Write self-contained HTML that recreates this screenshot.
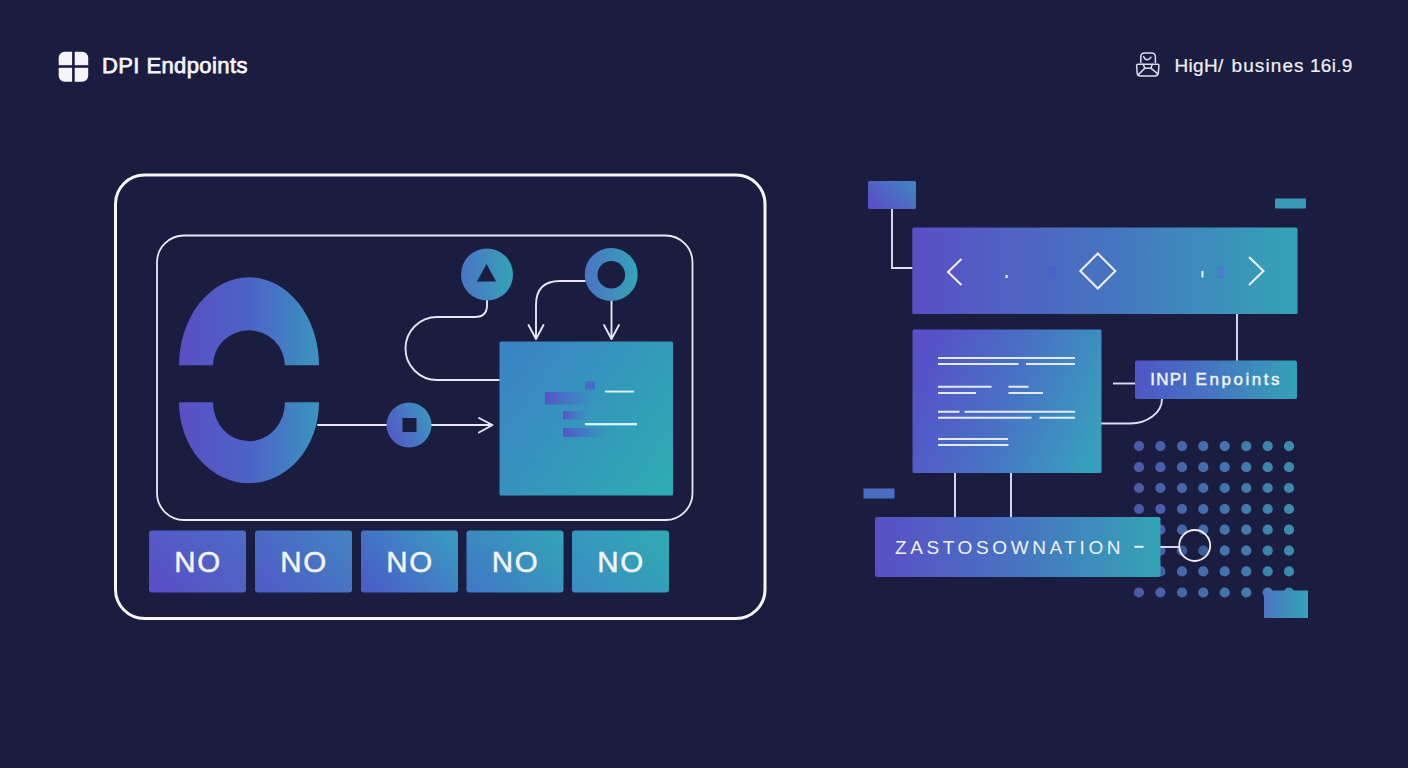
<!DOCTYPE html>
<html><head><meta charset="utf-8">
<style>
html,body{margin:0;padding:0;width:1408px;height:768px;overflow:hidden;background:#1b1d40;}
svg{position:absolute;left:0;top:0;display:block;}
text{font-family:"Liberation Sans",sans-serif;}
</style></head>
<body>
<svg width="1408" height="768" viewBox="0 0 1408 768">
<defs>
  <linearGradient id="gH" x1="0" y1="0" x2="1" y2="0">
    <stop offset="0" stop-color="#5a4fc6"/>
    <stop offset="0.5" stop-color="#4674c0"/>
    <stop offset="1" stop-color="#34a4b6"/>
  </linearGradient>
  <linearGradient id="gT" x1="0" y1="0.2" x2="1" y2="0.8">
    <stop offset="0" stop-color="#3b84c4"/>
    <stop offset="1" stop-color="#2eaab3"/>
  </linearGradient>
  <linearGradient id="gBtn" gradientUnits="userSpaceOnUse" x1="149" y1="0" x2="669" y2="0">
    <stop offset="0" stop-color="#5a50c6"/>
    <stop offset="0.5" stop-color="#4477c2"/>
    <stop offset="1" stop-color="#34a2b6"/>
  </linearGradient>
  <linearGradient id="gC" x1="0" y1="0" x2="1" y2="0">
    <stop offset="0" stop-color="#4b74c4"/>
    <stop offset="1" stop-color="#34a3b8"/>
  </linearGradient>
  <linearGradient id="gArc" gradientUnits="userSpaceOnUse" x1="179" y1="0" x2="319" y2="0">
    <stop offset="0" stop-color="#5a4fc4"/>
    <stop offset="0.5" stop-color="#4d62c6"/>
    <stop offset="1" stop-color="#3b94c0"/>
  </linearGradient>
  <linearGradient id="gDots" gradientUnits="userSpaceOnUse" x1="1134" y1="0" x2="1295" y2="0">
    <stop offset="0" stop-color="#5363bc"/>
    <stop offset="0.5" stop-color="#4a7ec2"/>
    <stop offset="1" stop-color="#3fa0c0"/>
  </linearGradient>
  <linearGradient id="gSq" x1="0" y1="0.7" x2="1" y2="0.3">
    <stop offset="0" stop-color="#5356c6"/>
    <stop offset="1" stop-color="#3c96c0"/>
  </linearGradient>
  <linearGradient id="gInpi" x1="0" y1="0" x2="1" y2="0">
    <stop offset="0" stop-color="#4f56c6"/>
    <stop offset="0.5" stop-color="#4478c2"/>
    <stop offset="1" stop-color="#34a2b6"/>
  </linearGradient>
  <linearGradient id="gSm" x1="0" y1="0.8" x2="1" y2="0.2">
    <stop offset="0" stop-color="#5a4ec6"/>
    <stop offset="1" stop-color="#4382c0"/>
  </linearGradient>
  <linearGradient id="gB0" x1="0" y1="0.8" x2="1" y2="0.2"><stop offset="0" stop-color="#5a4fc6"/><stop offset="1" stop-color="#4c6ac6"/></linearGradient>
  <linearGradient id="gB1" x1="0" y1="0.8" x2="1" y2="0.2"><stop offset="0" stop-color="#4e5cc6"/><stop offset="1" stop-color="#4382c2"/></linearGradient>
  <linearGradient id="gB2" x1="0" y1="0.8" x2="1" y2="0.2"><stop offset="0" stop-color="#4a5ec8"/><stop offset="1" stop-color="#3a98c0"/></linearGradient>
  <linearGradient id="gB3" x1="0" y1="0.8" x2="1" y2="0.2"><stop offset="0" stop-color="#3f7ac4"/><stop offset="1" stop-color="#34a2b8"/></linearGradient>
  <linearGradient id="gB4" x1="0" y1="0.8" x2="1" y2="0.2"><stop offset="0" stop-color="#3a8ec2"/><stop offset="1" stop-color="#30a9b4"/></linearGradient>
  <linearGradient id="gDoc" x1="0" y1="0.35" x2="1" y2="0.65">
    <stop offset="0" stop-color="#5750c8"/>
    <stop offset="0.5" stop-color="#4872c4"/>
    <stop offset="1" stop-color="#389ebe"/>
  </linearGradient>
  <linearGradient id="gBar" x1="0" y1="0" x2="1" y2="0">
    <stop offset="0" stop-color="#5652c8"/>
    <stop offset="1" stop-color="#4a70c8" stop-opacity="0"/>
  </linearGradient>
</defs>

<!-- header left -->
<g>
  <rect x="58.7" y="51.8" width="29.5" height="30" rx="6" fill="#f4f4fa"/>
  <rect x="72.1" y="50" width="2.6" height="34" fill="#1b1d40"/>
  <rect x="57" y="65.2" width="33" height="2.6" fill="#1b1d40"/>
  <text x="102" y="73.2" font-size="22" fill="#f4f4fa" stroke="#f4f4fa" stroke-width="0.75" letter-spacing="0.4">DPI Endpoints</text>
</g>
<!-- header right -->
<g>
  <g fill="none" stroke="#dcdcf0" stroke-width="1.5" stroke-linecap="round" stroke-linejoin="round">
    <path d="M1140.8 62.5 V57 Q1140.8 53 1144.8 53 H1151.3 Q1155.4 53 1155.4 57 V62.5"/>
    <path d="M1143.6 56.6 Q1146.5 62.5 1151 57.2"/>
    <path d="M1136.6 65.6 Q1136.6 64.2 1138 64.2 H1157.6 Q1159 64.2 1158.9 65.6 L1158.3 73.2 Q1158 76 1154.8 76 H1140.6 Q1137.4 76 1137.2 73.2 Z"/>
    <path d="M1138.4 74.6 L1144.8 68.2 H1150.8 L1157.6 73.6"/>
    <path d="M1143.2 64.3 L1144.8 68.2 M1152.4 64.3 L1150.8 68.2"/>
  </g>
  <g font-size="19" fill="#f0f0f8" stroke="#f0f0f8" stroke-width="0.2">
    <text x="1174.5" y="71.8" letter-spacing="0.3">HigH/</text>
    <text x="1231.5" y="71.8" letter-spacing="1.1">busines</text>
    <text x="1310" y="71.8" letter-spacing="0.3">16i.9</text>
  </g>
</g>

<!-- outer frames -->
<rect x="115.5" y="175" width="649.5" height="443.5" rx="29" fill="none" stroke="#f6f6fc" stroke-width="3"/>
<rect x="157" y="235.5" width="535.5" height="284.5" rx="27" fill="none" stroke="#eaeaf6" stroke-width="1.8"/>

<!-- C arcs -->
<path d="M179 365.3 A70 88 0 0 1 319 365.3 H284.8 A35.9 35 0 0 0 213 365.3 Z" fill="url(#gArc)"/>
<path d="M179 402.3 A70 81 0 0 0 319 402.3 H285 A36 39 0 0 1 213 402.3 Z" fill="url(#gArc)"/>

<!-- connectors left -->
<g fill="none" stroke="#e6e6f6" stroke-width="1.9" stroke-linecap="round" stroke-linejoin="round">
  <path d="M487 300 V305 Q487 317 475 317 H437 A31.5 31.5 0 0 0 437 380 H499"/>
  <path d="M585 281 H560 Q536 281 536 305 V338"/>
  <path d="M528.5 325 L536 339 L543.5 325"/>
  <path d="M611.5 300 V338"/>
  <path d="M604 325 L611.5 339 L619 325"/>
  <path d="M318 425 H387"/>
  <path d="M431 425 H492"/>
  <path d="M479 418 L492.5 425 L479 432.5"/>
</g>

<!-- circles -->
<circle cx="487" cy="274.5" r="26" fill="url(#gC)"/>
<path d="M486.5 264 L496 281.5 H477 Z" fill="#1b1d40"/>
<circle cx="611.2" cy="274.5" r="26.5" fill="url(#gC)"/>
<circle cx="611.3" cy="274.7" r="13.8" fill="#1b1d40"/>
<circle cx="409" cy="425" r="22.5" fill="url(#gSq)"/>
<rect x="402.5" y="418" width="14" height="14" fill="#1b1d40"/>

<!-- teal box -->
<rect x="499.5" y="341.5" width="173.5" height="154" rx="1.5" fill="url(#gT)"/>
<g>
  <rect x="585" y="381.5" width="10" height="8" fill="#4a64c8" opacity="0.85"/>
  <rect x="545" y="392" width="50" height="12.5" fill="url(#gBar)"/>
  <rect x="563" y="411" width="26" height="8.5" fill="url(#gBar)"/>
  <rect x="563" y="428" width="46" height="9" fill="url(#gBar)"/>
  <rect x="591" y="406" width="16" height="3" fill="#3f8fc0" opacity="0.6"/>
  <rect x="605" y="390.6" width="29" height="1.9" fill="#daf6ff"/>
  <rect x="585" y="423.1" width="52" height="2.2" fill="#e2f8ff"/>
</g>

<!-- buttons -->
<g>
  <rect x="149" y="530.5" width="97" height="62" rx="3" fill="url(#gB0)"/>
  <rect x="255" y="530.5" width="97" height="62" rx="3" fill="url(#gB1)"/>
  <rect x="361" y="530.5" width="97" height="62" rx="3" fill="url(#gB2)"/>
  <rect x="466.5" y="530.5" width="97" height="62" rx="3" fill="url(#gB3)"/>
  <rect x="572" y="530.5" width="97" height="62" rx="3" fill="url(#gB4)"/>
</g>
<g font-size="29.5" fill="#f4f4fa" stroke="#f4f4fa" stroke-width="0.5" text-anchor="middle" letter-spacing="1.6">
  <text x="198" y="572">NO</text>
  <text x="304" y="572">NO</text>
  <text x="410" y="572">NO</text>
  <text x="515.5" y="572">NO</text>
  <text x="621" y="572">NO</text>
</g>

<!-- dot grid -->
<g fill="url(#gDots)" fill-opacity="0.85">
  <!-- generated below -->
  <circle cx="1139" cy="446.1" r="5.1"/><circle cx="1160.4" cy="446.1" r="5.1"/><circle cx="1182" cy="446.1" r="5.1"/><circle cx="1203.3" cy="446.1" r="5.1"/><circle cx="1224.7" cy="446.1" r="5.1"/><circle cx="1246.3" cy="446.1" r="5.1"/><circle cx="1267.7" cy="446.1" r="5.1"/><circle cx="1289" cy="446.1" r="5.1"/>
  <circle cx="1139" cy="467.2" r="5.1"/><circle cx="1160.4" cy="467.2" r="5.1"/><circle cx="1182" cy="467.2" r="5.1"/><circle cx="1203.3" cy="467.2" r="5.1"/><circle cx="1224.7" cy="467.2" r="5.1"/><circle cx="1246.3" cy="467.2" r="5.1"/><circle cx="1267.7" cy="467.2" r="5.1"/><circle cx="1289" cy="467.2" r="5.1"/>
  <circle cx="1139" cy="488" r="5.1"/><circle cx="1160.4" cy="488" r="5.1"/><circle cx="1182" cy="488" r="5.1"/><circle cx="1203.3" cy="488" r="5.1"/><circle cx="1224.7" cy="488" r="5.1"/><circle cx="1246.3" cy="488" r="5.1"/><circle cx="1267.7" cy="488" r="5.1"/><circle cx="1289" cy="488" r="5.1"/>
  <circle cx="1139" cy="509" r="5.1"/><circle cx="1160.4" cy="509" r="5.1"/><circle cx="1182" cy="509" r="5.1"/><circle cx="1203.3" cy="509" r="5.1"/><circle cx="1224.7" cy="509" r="5.1"/><circle cx="1246.3" cy="509" r="5.1"/><circle cx="1267.7" cy="509" r="5.1"/><circle cx="1289" cy="509" r="5.1"/>
  <circle cx="1139" cy="529.7" r="5.1"/><circle cx="1160.4" cy="529.7" r="5.1"/><circle cx="1182" cy="529.7" r="5.1"/><circle cx="1203.3" cy="529.7" r="5.1"/><circle cx="1224.7" cy="529.7" r="5.1"/><circle cx="1246.3" cy="529.7" r="5.1"/><circle cx="1267.7" cy="529.7" r="5.1"/><circle cx="1289" cy="529.7" r="5.1"/>
  <circle cx="1139" cy="550.6" r="5.1"/><circle cx="1160.4" cy="550.6" r="5.1"/><circle cx="1182" cy="550.6" r="5.1"/><circle cx="1203.3" cy="550.6" r="5.1"/><circle cx="1224.7" cy="550.6" r="5.1"/><circle cx="1246.3" cy="550.6" r="5.1"/><circle cx="1267.7" cy="550.6" r="5.1"/><circle cx="1289" cy="550.6" r="5.1"/>
  <circle cx="1139" cy="571.4" r="5.1"/><circle cx="1160.4" cy="571.4" r="5.1"/><circle cx="1182" cy="571.4" r="5.1"/><circle cx="1203.3" cy="571.4" r="5.1"/><circle cx="1224.7" cy="571.4" r="5.1"/><circle cx="1246.3" cy="571.4" r="5.1"/><circle cx="1267.7" cy="571.4" r="5.1"/><circle cx="1289" cy="571.4" r="5.1"/>
  <circle cx="1139" cy="592.5" r="5.1"/><circle cx="1160.4" cy="592.5" r="5.1"/><circle cx="1182" cy="592.5" r="5.1"/><circle cx="1203.3" cy="592.5" r="5.1"/><circle cx="1224.7" cy="592.5" r="5.1"/><circle cx="1246.3" cy="592.5" r="5.1"/><circle cx="1267.7" cy="592.5" r="5.1"/><circle cx="1289" cy="592.5" r="5.1"/>
  
</g>
<!-- RIGHT SIDE -->
<rect x="868" y="181" width="48" height="28" rx="1.5" fill="url(#gSm)"/>
<rect x="1275" y="198.5" width="31" height="10" rx="1" fill="#3a98b8"/>
<rect x="863.5" y="488.5" width="31" height="10" fill="#4a6cc4"/>
<rect x="1264" y="590.5" width="44" height="27.5" fill="url(#gC)"/>



<g fill="none" stroke="#dedef4" stroke-width="1.9">
  <path d="M892 209 V268 H913"/>
  <path d="M1237 314 V361"/>
  <path d="M1113 383.5 H1135"/>
  <path d="M1162 399 A32 24.5 0 0 1 1130 423.5 H1101"/>
  <path d="M955 473 V517"/>
  <path d="M1011 473 V517"/>
  <path d="M1160 547 H1179"/>
</g>

<!-- banner -->
<rect x="912.3" y="227.5" width="385.2" height="86.5" rx="1.5" fill="url(#gH)"/>
<g fill="none" stroke="#f0f0fa" stroke-width="2" stroke-linejoin="miter">
  <path d="M961.5 259 L948 272 L961.5 285"/>
  <path d="M1249 257 L1263.5 271 L1249 285"/>
  <path d="M1097.8 253.5 L1115.3 271 L1097.8 288.5 L1080.3 271 Z"/>
</g>
<rect x="1005.5" y="275" width="2.2" height="3" fill="#e8e8ff"/>
<rect x="1048" y="265.5" width="7.5" height="13" fill="#4a60cc" opacity="0.8"/>
<rect x="1201.5" y="271" width="2" height="6.5" fill="#e8f4ff"/>
<rect x="1217" y="266" width="6.5" height="12.5" fill="#4a78c8" opacity="0.8"/>

<!-- doc box -->
<rect x="912.5" y="329.5" width="189" height="143.5" rx="1.5" fill="url(#gDoc)"/>
<g stroke="#e2eafe" stroke-width="1.9" stroke-linecap="butt">
  <path d="M938 358 H1075"/>
  <path d="M938 364 H1018.5 M1026 364 H1075"/>
  <path d="M938 386.7 H991.5 M1008.5 386.7 H1028.5"/>
  <path d="M938 393 H976 M1008.5 393 H1043"/>
  <path d="M938 411.7 H959.5 M964.5 411.7 H1075"/>
  <path d="M938 417.7 H1031.5 M1039.5 417.7 H1075"/>
  <path d="M938 439 H1008"/>
  <path d="M938 445 H1008.5"/>
</g>

<!-- INPI box -->
<rect x="1135" y="360.5" width="162" height="38.5" rx="2" fill="url(#gInpi)"/>
<g font-size="17" fill="#f0f4fa" stroke="#f0f4fa" stroke-width="0.45">
  <text x="1150.3" y="385" letter-spacing="1.2">INPI</text>
  <text x="1195.5" y="385" letter-spacing="2.55">Enpoints</text>
</g>

<!-- ZASTOSOWNATION box -->
<rect x="875" y="517" width="285.5" height="60" rx="2" fill="url(#gH)"/>
<text x="895" y="554" font-size="19" fill="#f0f2fa" letter-spacing="3.6">ZASTOSOWNATION</text>
<rect x="1134.5" y="545.8" width="9" height="2" fill="#f0f2fa"/>

<circle cx="1194.7" cy="545.5" r="15.5" fill="#1b1d40" fill-opacity="0.2" stroke="#f0f0fa" stroke-width="1.8"/>

</svg>
</body></html>
